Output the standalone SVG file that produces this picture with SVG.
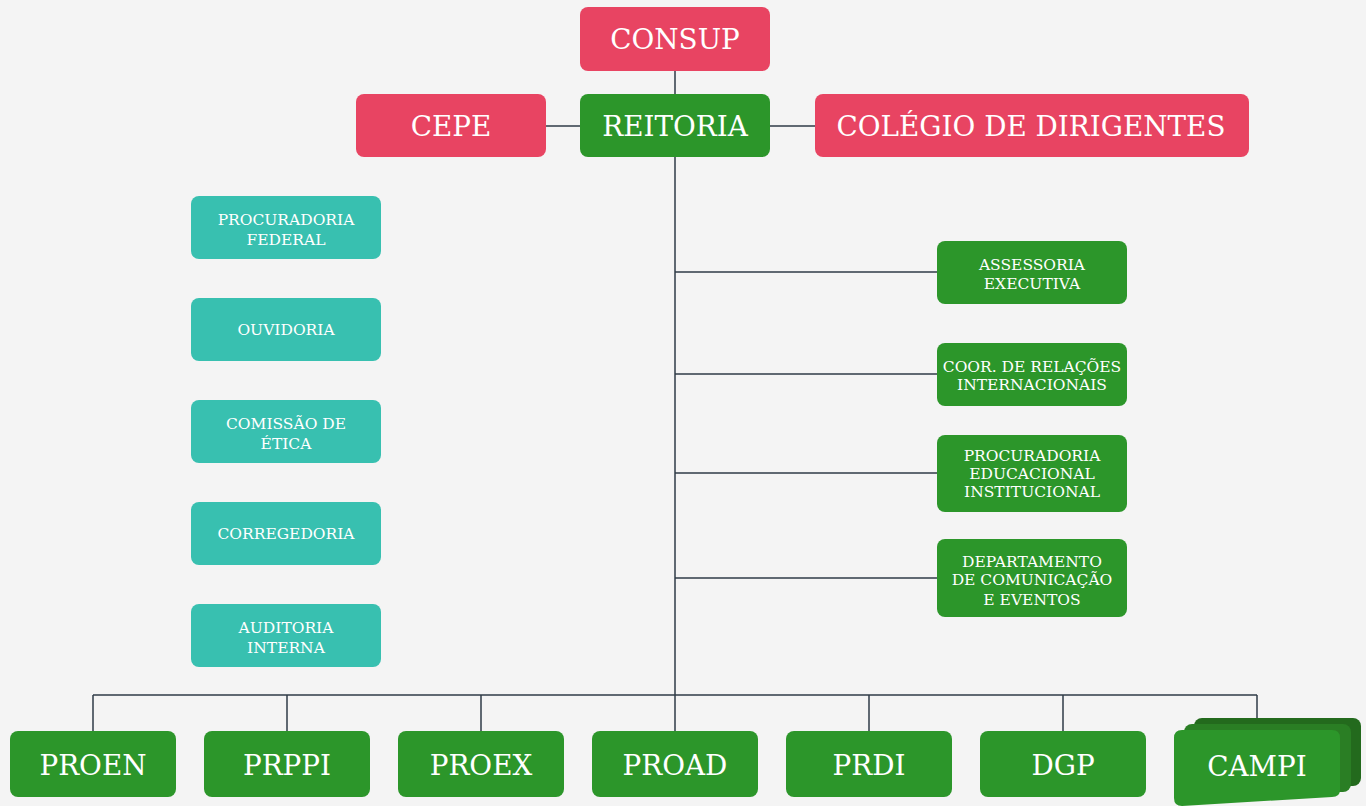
<svg xmlns="http://www.w3.org/2000/svg" width="1366" height="806" viewBox="0 0 1366 806">
<style>
.bg{fill:#f4f4f4}
.red{fill:#e84462}
.green{fill:#2c962a}
.teal{fill:#38c0b0}
.big{font-family:"DejaVu Serif","Liberation Serif",serif;font-size:27.8px;fill:#fff;text-anchor:middle;dominant-baseline:central}
.small{font-family:"DejaVu Serif","Liberation Serif",serif;font-size:15.5px;fill:#fff;text-anchor:middle}
.ln{stroke:#2f3b47;stroke-width:1.5;fill:none}
</style>
<rect class="bg" x="0" y="0" width="1366" height="806"/>
<g id="connectors">
<path class="ln" d="M675 71V94M546 126H580M770 126H815M675 157V731"/>
<path class="ln" d="M675 272H937M675 374H937M675 473H937M675 578H937"/>
<path class="ln" d="M93 695H1257M93 695V731M287 695V731M481 695V731M869 695V731M1063 695V731M1257 695V731"/>
</g>
<g id="consup"><rect class="red" x="580" y="7" width="190" height="64" rx="8"/><text class="big" x="675" y="39">CONSUP</text></g>
<g id="cepe"><rect class="red" x="356" y="94" width="190" height="63" rx="8"/><text class="big" x="451" y="126">CEPE</text></g>
<g id="reitoria"><rect class="green" x="580" y="94" width="190" height="63" rx="8"/><text class="big" x="675" y="126">REITORIA</text></g>
<g id="colegio"><rect class="red" x="815" y="94" width="434" height="63" rx="8"/><text class="big" x="1031" y="126">COLÉGIO DE DIRIGENTES</text></g>
<g id="procuradoria-federal"><rect class="teal" x="191" y="196" width="190" height="63" rx="8"/><text class="small" x="286" y="225">PROCURADORIA</text><text class="small" x="286" y="245">FEDERAL</text></g>
<g id="ouvidoria"><rect class="teal" x="191" y="298" width="190" height="63" rx="8"/><text class="small" x="286" y="335">OUVIDORIA</text></g>
<g id="comissao"><rect class="teal" x="191" y="400" width="190" height="63" rx="8"/><text class="small" x="286" y="429">COMISSÃO DE</text><text class="small" x="286" y="449">ÉTICA</text></g>
<g id="corregedoria"><rect class="teal" x="191" y="502" width="190" height="63" rx="8"/><text class="small" x="286" y="539">CORREGEDORIA</text></g>
<g id="auditoria"><rect class="teal" x="191" y="604" width="190" height="63" rx="8"/><text class="small" x="286" y="633">AUDITORIA</text><text class="small" x="286" y="653">INTERNA</text></g>
<g id="assessoria"><rect class="green" x="937" y="241" width="190" height="63" rx="8"/><text class="small" x="1032" y="270">ASSESSORIA</text><text class="small" x="1032" y="289">EXECUTIVA</text></g>
<g id="coor"><rect class="green" x="937" y="343" width="190" height="63" rx="8"/><text class="small" x="1032" y="372">COOR. DE RELAÇÕES</text><text class="small" x="1032" y="390">INTERNACIONAIS</text></g>
<g id="procuradoria-educacional"><rect class="green" x="937" y="435" width="190" height="77" rx="8"/><text class="small" x="1032" y="461">PROCURADORIA</text><text class="small" x="1032" y="479">EDUCACIONAL</text><text class="small" x="1032" y="497">INSTITUCIONAL</text></g>
<g id="departamento"><rect class="green" x="937" y="539" width="190" height="78" rx="8"/><text class="small" x="1032" y="567">DEPARTAMENTO</text><text class="small" x="1032" y="585">DE COMUNICAÇÃO</text><text class="small" x="1032" y="605">E EVENTOS</text></g>
<g id="proen"><rect class="green" x="10" y="731" width="166" height="66" rx="8"/><text class="big" x="93" y="765">PROEN</text></g>
<g id="prppi"><rect class="green" x="204" y="731" width="166" height="66" rx="8"/><text class="big" x="287" y="765">PRPPI</text></g>
<g id="proex"><rect class="green" x="398" y="731" width="166" height="66" rx="8"/><text class="big" x="481" y="765">PROEX</text></g>
<g id="proad"><rect class="green" x="592" y="731" width="166" height="66" rx="8"/><text class="big" x="675" y="765">PROAD</text></g>
<g id="prdi"><rect class="green" x="786" y="731" width="166" height="66" rx="8"/><text class="big" x="869" y="765">PRDI</text></g>
<g id="dgp"><rect class="green" x="980" y="731" width="166" height="66" rx="8"/><text class="big" x="1063" y="765">DGP</text></g>
<g id="campi">
<rect fill="#236a1d" x="1194" y="718" width="167" height="68" rx="8"/>
<rect fill="#2a7e24" x="1184" y="724" width="167" height="68" rx="8"/>
<path class="green" d="M1182 730H1332Q1340 730 1340 738V790Q1340 797 1332 797L1182 806Q1174 806 1174 798V738Q1174 730 1182 730Z"/>
<text class="big" x="1257" y="766">CAMPI</text>
</g>
</svg>
